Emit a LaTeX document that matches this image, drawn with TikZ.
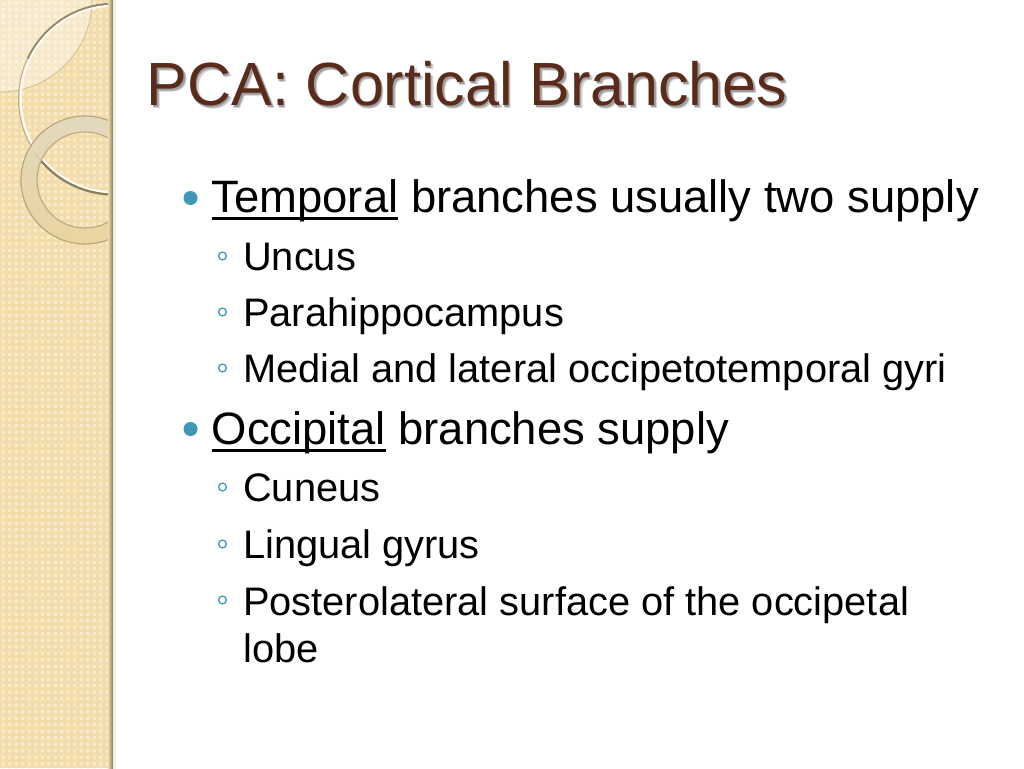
\documentclass[tikz,border=0pt]{standalone}
\usepackage{fontspec}
\setmainfont{Liberation Sans}
\usetikzlibrary{calc}
\definecolor{titlebrown}{HTML}{5A2A1B}
\definecolor{bullteal}{HTML}{3F98B4}
\definecolor{sidetan}{HTML}{F2DCAA}
\definecolor{sidelight}{HTML}{F9EACA}
\definecolor{ringtop}{HTML}{E0D8C0}
\definecolor{ringbot}{HTML}{E9D49E}
\newsavebox{\ulbox}
\newcommand{\ulword}[1]{\sbox{\ulbox}{#1}\rlap{\rule[-8pt]{\wd\ulbox}{2.6pt}}\usebox{\ulbox}}
\newcommand{\softshadow}[1]{\rlap{\raisebox{-3.2pt}{\kern2.8pt\color{black!18}#1}}\rlap{\raisebox{-2pt}{\kern1.6pt\color{black!38}#1}}#1}
\tikzset{
	titletext/.style={anchor=base west, inner sep=0pt, font=\fontsize{61}{70}\selectfont},
	maintext/.style={anchor=base west, inner sep=0pt, font=\fontsize{45.4}{54}\selectfont, text=black},
	subtext/.style={anchor=base west, inner sep=0pt, font=\fontsize{39.8}{46}\selectfont, text=black},
	bigbull/.style={fill=bullteal, draw=none},
	smallbull/.style={draw=bullteal, line width=1.3pt, fill=white}
}
\begin{document}
\begin{tikzpicture}[x=1pt, y=-1pt]
			%%%%% START %%%%%
			\useasboundingbox (0, 0) rectangle (1024, 768);
			\fill[white] (0, 0) rectangle (1024, 768);
			
			% side band
			\fill[sidetan] (0, 0) rectangle (113, 768);
			\fill[sidelight] \foreach \i in {0,...,17} {\foreach \j in {0,...,118} {
				(\i*6.5+1.5, \j*6.5+1.5) rectangle ++(3.4, 3.4)}};
			
			\begin{scope}
				\clip (0, 0) rectangle (113, 768);
				
				% corner leaf
				\fill[white, opacity=0.38] (0, 0) -- (92, 0) arc (0:90:92) -- cycle;
				\draw[black!14!sidetan, line width=0.8pt] (92, 0) arc (0:90:92);
				
				% thin ring
				\draw[black!22!sidetan, line width=1pt] (114, 99) circle (95.5);
				\draw[black!38!sidetan, line width=2.4pt] (114, 4) arc (270:205:95);
				\draw[black!42!sidetan, line width=2.4pt] (114, 194.5) arc (90:145:95.5);
				\draw[white!92!sidetan, line width=2pt] (114, 99) circle (93.2);
				
				% thick ring
				\shade[even odd rule, top color=ringtop, bottom color=ringbot, opacity=0.88]
					(85, 180) circle (64) (85, 180) circle (48);
				\draw[black!24!sidetan, line width=1.2pt] (85, 180) circle (64);
				\draw[black!22!sidetan, line width=1.2pt] (85, 180) circle (48);
			\end{scope}
			
			% band edge
			\shade[left color=sidetan, right color=black!45!sidetan] (108, 0) rectangle (113, 768);
			\shade[left color=black!8, right color=white] (113, 0) rectangle (117, 768);
			
			% title
			\node[titletext, text=titlebrown] (title) at (146.5, 105) {\softshadow{PCA: Cortical Branches}};
			
			% bullets
			\foreach \y in {198, 429} {\draw[bigbull] (190.5, \y) circle (7);}
			\foreach \y in {256, 312, 368, 487, 544, 600} {\draw[smallbull] (222.5, \y) circle (3.9);}
			
			% texts
			\node[maintext] (temporal) at (211.5, 212) {\ulword{Temporal} branches usually two supply};
			\node[subtext] (uncus) at (243, 270) {Uncus};
			\node[subtext] (parahip) at (243, 326) {Parahippocampus};
			\node[subtext] (medial) at (243, 382) {Medial and lateral occipetotemporal gyri};
			\node[maintext] (occipital) at (211.5, 444) {\ulword{Occipital} branches supply};
			\node[subtext] (cuneus) at (243, 501) {Cuneus};
			\node[subtext] (lingual) at (243, 558) {Lingual gyrus};
			\node[subtext] (postero) at (243, 615) {Posterolateral surface of the occipetal};
			\node[subtext] (lobe) at (243, 662) {lobe};
			%%%%% END %%%%%
\end{tikzpicture}
\end{document}
